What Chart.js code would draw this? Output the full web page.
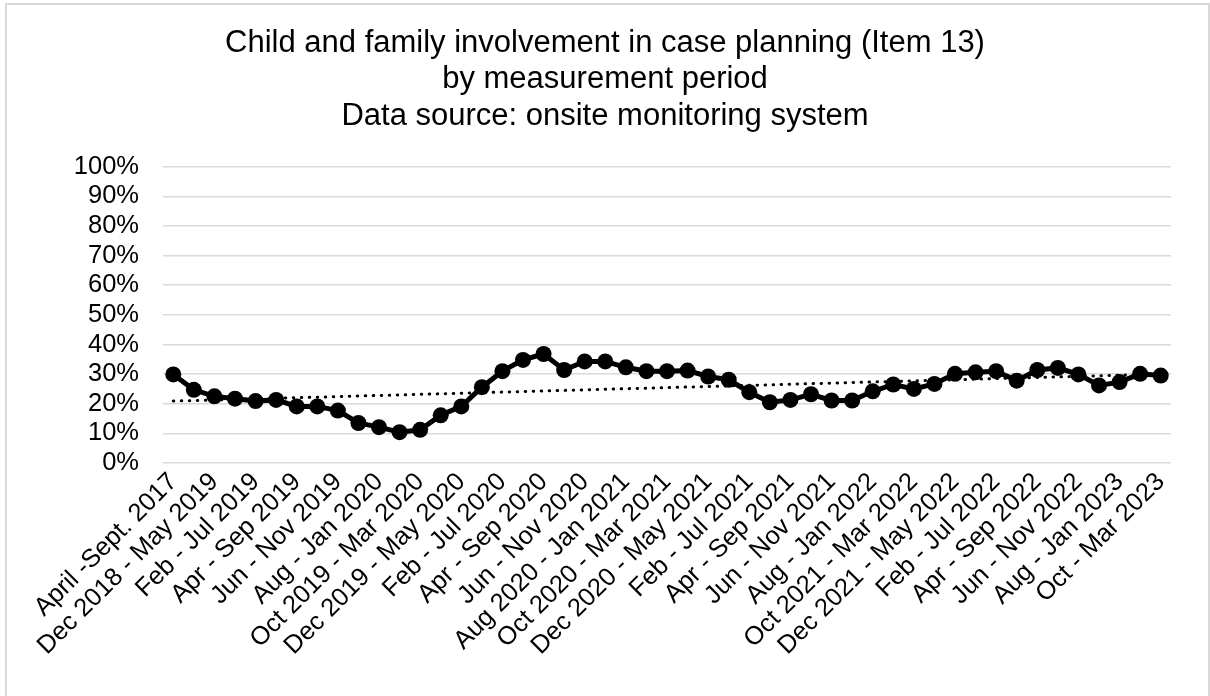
<!DOCTYPE html>
<html>
<head>
<meta charset="utf-8">
<script src="https://cdn.jsdelivr.net/npm/chart.js@4"></script>
<style>
    html, body { margin: 0; padding: 0; background: #fff; overflow: hidden; }
    #frame { position: absolute; left: 5px; top: 3px; width: 1201px; height: 720px; border: 2px solid #d9d9d9; }
    #wrap { position: absolute; left: 0; top: 0; width: 1210px; height: 696px; }
</style>
</head>
<body>
<div id="frame"></div>
<div id="wrap"><canvas id="myChart" width="1210" height="696"></canvas></div>
<script>
// measurement periods (only every other one is labelled on the axis)
const periods = [
    "April -Sept. 2017", "Nov 2018 - Apr 2019", "Dec 2018 - May 2019", "Jan - Jun 2019",
    "Feb - Jul 2019", "Mar - Aug 2019", "Apr - Sep 2019", "May - Oct 2019",
    "Jun - Nov 2019", "Jul - Dec 2019", "Aug - Jan 2020", "Sep 2019 - Feb 2020",
    "Oct 2019 - Mar 2020", "Nov 2019 - Apr 2020", "Dec 2019 - May 2020", "Jan - Jun 2020",
    "Feb - Jul 2020", "Mar - Aug 2020", "Apr - Sep 2020", "May - Oct 2020",
    "Jun - Nov 2020", "Jul - Dec 2020", "Aug 2020 - Jan 2021", "Sep 2020 - Feb 2021",
    "Oct 2020 - Mar 2021", "Nov 2020 - Apr 2021", "Dec 2020 - May 2021", "Jan - Jun 2021",
    "Feb - Jul 2021", "Mar - Aug 2021", "Apr - Sep 2021", "May - Oct 2021",
    "Jun - Nov 2021", "Jul - Dec 2021", "Aug - Jan 2022", "Sep 2021 - Feb 2022",
    "Oct 2021 - Mar 2022", "Nov 2021 - Apr 2022", "Dec 2021 - May 2022", "Jan - Jun 2022",
    "Feb - Jul 2022", "Mar - Aug 2022", "Apr - Sep 2022", "May - Oct 2022",
    "Jun - Nov 2022", "Jul - Dec 2022", "Aug - Jan 2023", "Sep 2022 - Feb 2023",
    "Oct - Mar 2023"
];

// percent involved
const involvement = [
    29.9, 24.7, 22.5, 21.7, 20.9, 21.3, 19.1, 19.1, 17.7, 13.5,
    12.1, 10.4, 11.2, 16.1, 19.1, 25.6, 31.0, 34.8, 36.8, 31.4,
    34.3, 34.3, 32.3, 31.0, 31.0, 31.2, 29.2, 28.1, 23.9, 20.5,
    21.3, 23.2, 21.1, 21.1, 24.2, 26.5, 25.0, 26.7, 30.1, 30.6,
    31.0, 27.8, 31.4, 32.1, 29.9, 26.2, 27.3, 30.1, 29.5
];

// linear trendline end values
const trendStart = 20.9;
const trendEnd = 30.0;

const titleLines = [
    "Child and family involvement in case planning (Item 13)",
    "by measurement period",
    "Data source: onsite monitoring system"
];

const trendData = periods.map((p, i) => i === 0 ? trendStart : (i === periods.length - 1 ? trendEnd : null));

const fontFamily = "'Liberation Sans', Arial, sans-serif";

let ctx = document.getElementById("myChart");
let myChart = new Chart(ctx, {
    type: 'line',
    data: {
        labels: periods,
        datasets: [{
            label: 'Involvement',
            data: involvement,
            borderColor: '#000',
            backgroundColor: '#000',
            borderWidth: 5,
            pointRadius: 8,
            pointBackgroundColor: '#000',
            pointBorderColor: '#000',
            pointBorderWidth: 0,
            tension: 0,
            order: 1
        }, {
            label: 'Trend',
            data: trendData,
            spanGaps: true,
            borderColor: '#000',
            borderWidth: 3,
            borderDash: [0.5, 7.5],
            borderCapStyle: 'round',
            pointRadius: 0,
            tension: 0,
            order: 2
        }]
    },
    options: {
        responsive: false,
        animation: false,
        layout: { padding: 0, autoPadding: false },
        plugins: {
            legend: { display: false },
            tooltip: { enabled: false },
            title: {
                display: true,
                text: titleLines,
                color: '#000',
                font: { family: fontFamily, size: 31, weight: 'normal', lineHeight: 1.18 },
                padding: { top: 25, bottom: 32 }
            }
        },
        scales: {
            x: {
                type: 'category',
                offset: true,
                grid: { display: false, drawTicks: false },
                border: { display: false },
                ticks: {
                    autoSkip: false,
                    maxRotation: 45,
                    minRotation: 45,
                    padding: 4,
                    color: '#000',
                    font: { family: fontFamily, size: 25.5 },
                    callback: function(value, index) {
                        return index % 2 === 0 ? this.getLabelForValue(value) : '';
                    }
                },
                afterFit: (scale) => { scale.height = 233; }
            },
            y: {
                min: 0,
                max: 100,
                grid: { color: '#d9d9d9', lineWidth: 1.5, drawTicks: false },
                border: { display: false },
                ticks: {
                    stepSize: 10,
                    autoSkip: false,
                    padding: 24,
                    color: '#000',
                    font: { family: fontFamily, size: 25.5 },
                    callback: (v) => v + '%'
                },
                afterFit: (scale) => { scale.width = 163; }
            },
            // empty right axis, only keeps space on the right side of the plot
            yRight: {
                position: 'right',
                min: 0,
                max: 100,
                grid: { display: false, drawTicks: false },
                border: { display: false },
                ticks: { display: false },
                afterFit: (scale) => { scale.width = 39; }
            }
        }
    }
});
</script>
</body>
</html>
